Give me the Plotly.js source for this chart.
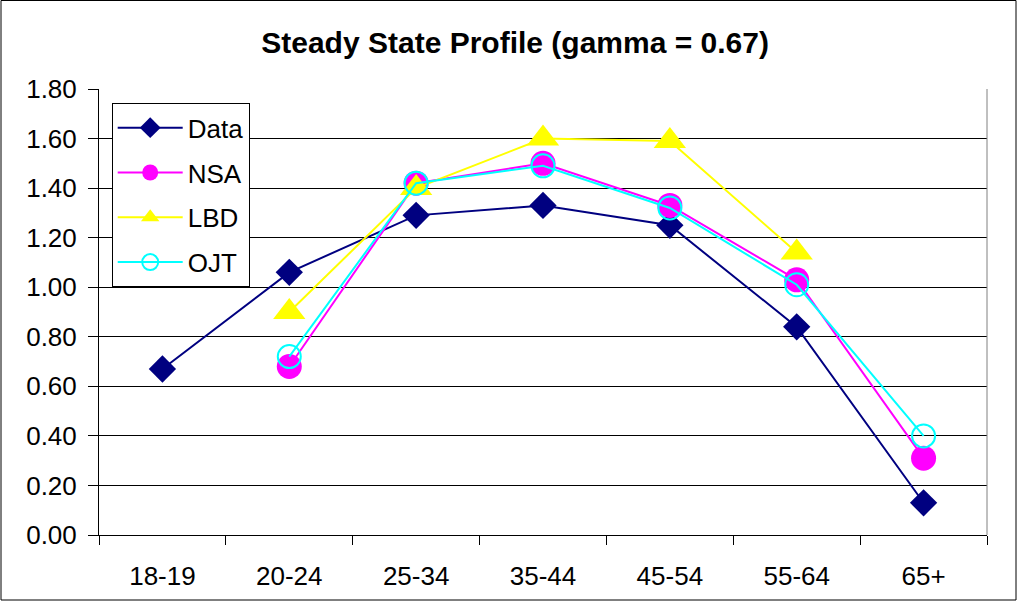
<!DOCTYPE html>
<html>
<head>
<meta charset="utf-8">
<script src="https://cdn.plot.ly/plotly-3.0.1.min.js"></script>
<style>
html, body { margin: 0; padding: 0; background: #fff; }
#chart { width: 1018px; height: 602px; }
</style>
</head>
<body>
<div id="chart"></div>
<script>
const categories = ["18-19", "20-24", "25-34", "35-44", "45-54", "55-64", "65+"];
const dataSeries = [0.67, 1.06, 1.29, 1.33, 1.25, 0.84, 0.13];
const nsaSeries  = [null, 0.68, 1.42, 1.50, 1.33, 1.03, 0.31];
const lbdSeries  = [null, 0.90, 1.40, 1.60, 1.59, 1.14, null];
const ojtSeries  = [null, 0.72, 1.42, 1.49, 1.32, 1.01, 0.40];
const yTickVals  = [0, 0.2, 0.4, 0.6, 0.8, 1.0, 1.2, 1.4, 1.6, 1.8];

const W = 1018, H = 602;
const M = { l: 99, r: 31, t: 89, b: 67 };
const pw = W - M.l - M.r, ph = H - M.t - M.b;
const FONT = "Liberation Sans, Arial, sans-serif";

const traces = [
  { name: "Data", y: dataSeries, legendgroup: "a",
    line: { color: "#000080", width: 2 },
    marker: { symbol: "diamond", size: 21, color: "#000080" } },
  { name: "NSA", y: nsaSeries, legendgroup: "b",
    line: { color: "#FF00FF", width: 2 },
    marker: { symbol: "circle", size: 25, color: "#FF00FF" } },
  { name: "LBD", y: lbdSeries, legendgroup: "c",
    line: { color: "#FFFF00", width: 2 },
    marker: { symbol: "triangle-up", size: 28, color: "#FFFF00" } },
  { name: "OJT", y: ojtSeries, legendgroup: "d",
    line: { color: "#00FFFF", width: 2 },
    marker: { symbol: "circle-open", size: 23, color: "#00FFFF", line: { width: 2, color: "#00FFFF" } } }
].map(t => Object.assign({ type: "scatter", mode: "lines+markers", x: categories, connectgaps: false, cliponaxis: false }, t));

const layout = {
  width: W, height: H,
  margin: M,
  paper_bgcolor: "#fff", plot_bgcolor: "#fff",
  font: { family: FONT, size: 26, color: "#000" },
  title: { text: "Steady State Profile (gamma = 0.67)", xref: "container", x: 0.506, xanchor: "center",
           yref: "container", y: 1 - 42 / H, yanchor: "middle",
           font: { family: FONT, size: 30, weight: "bold", color: "#000" } },
  xaxis: { type: "category", range: [-0.5, 6.5], tickson: "boundaries", ticks: "outside", ticklen: 9,
           tickcolor: "#000", showline: true, linecolor: "#000", linewidth: 1, showgrid: false,
           zeroline: false, ticklabelstandoff: 18, tickfont: { size: 26 } },
  yaxis: { range: [0, 1.8], tickvals: yTickVals, tickformat: ".2f", ticks: "outside", ticklen: 10,
           tickcolor: "#000", showline: true, linecolor: "#000", linewidth: 1, showgrid: true,
           gridcolor: "#000", gridwidth: 1, zeroline: false, ticklabelstandoff: 6, tickfont: { size: 26 } },
  showlegend: true,
  legend: { x: (111.7 - M.l) / pw, xanchor: "left", y: (H - M.b - 103.3) / ph, yanchor: "top",
            bgcolor: "#fff", bordercolor: "#000", borderwidth: 1, font: { size: 26 },
            tracegroupgap: 8, itemwidth: 65 },
  shapes: [
    { type: "line", xref: "paper", yref: "paper", x0: 1, x1: 1, y0: 0, y1: 1,
      line: { color: "#808080", width: 1 } },
    { type: "rect", xref: "paper", yref: "paper", layer: "below",
      x0: (1 - M.l) / pw, x1: (W - 2 - M.l) / pw,
      y0: (H - M.b - (H - 2)) / ph, y1: (H - M.b - 0.5) / ph,
      line: { color: "#000", width: 1 } }
  ]
};

Plotly.newPlot("chart", traces, layout, { displayModeBar: false, staticPlot: true });
</script>
</body>
</html>
